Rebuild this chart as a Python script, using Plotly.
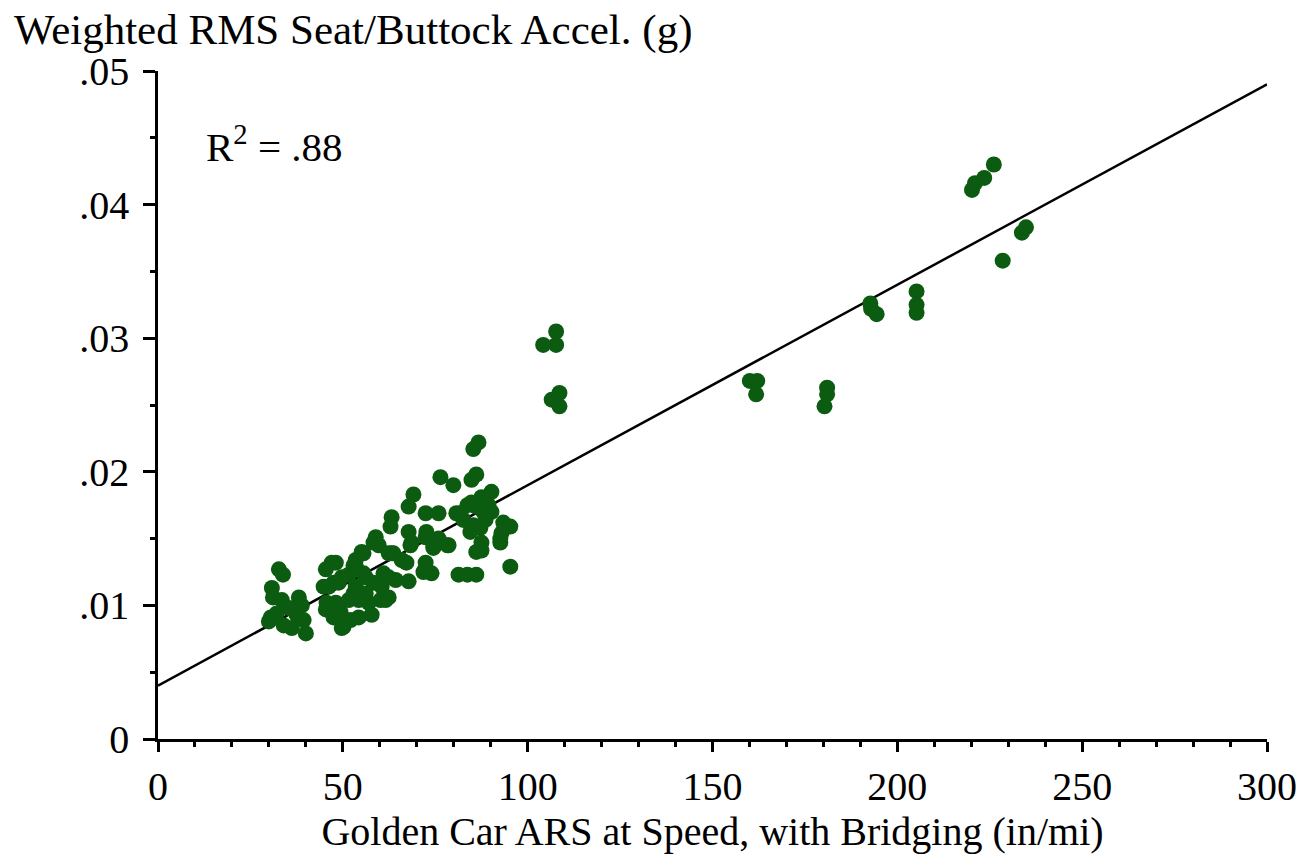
import plotly.graph_objects as go

# ARS (in/mi) and weighted RMS seat/buttock acceleration (g)
ars = [
    32.7, 33.8, 30.8, 31.1, 33.5, 38.1, 30.5, 32.1, 34.0, 37.5, 39.4, 40.0, 36.2, 30.0, 38.9, 35.4,
    45.4, 48.1, 44.8, 47.5, 49.7, 45.6, 45.4, 48.1, 49.4, 50.2, 52.1, 47.5, 54.3, 57.8,
    52.9, 55.6, 58.3, 55.6, 58.3, 61.0, 60.2, 57.0, 52.9, 62.4, 49.7, 61.6, 51.6, 54.3,
    48.9, 51.6, 56.2, 62.4, 60.5, 56.2, 53.5, 46.2, 53.5, 58.9, 59.7, 55.1, 53.5, 63.2, 65.9, 47.0,
    68.3, 74.5, 78.3, 87.5, 92.6, 95.3, 81.3, 83.7, 86.1, 72.4, 74.0, 71.8, 63.7, 67.2, 67.8, 64.3, 62.4,
    76.4, 79.9, 69.1, 67.8, 72.4, 75.9, 63.2, 62.9, 67.8, 68.6, 72.6, 74.5, 74.5, 78.6, 80.7,
    86.7, 85.3, 84.8, 86.1, 90.2, 87.5, 84.8, 86.1, 89.4, 90.2, 88.0, 81.8, 85.3, 87.2, 84.5,
    93.4, 95.3, 92.9, 92.6, 75.9, 87.5, 86.1, 83.7, 88.6, 82.6, 72.4,
    107.7, 104.2, 107.7, 108.6, 106.5, 108.6,
    160.1, 162.1, 161.8, 181.0, 181.0, 180.3,
    192.7, 192.9, 194.4, 205.2, 205.2, 205.2,
    220.2, 221.0, 223.5, 226.1, 234.8, 233.7, 228.5,
]
accel = [
    .0127, .0123, .0113, .0106, .0104, .0106, .0091, .0094, .0085, .0093, .0089, .0079, .0083, .0088, .0100, .0098,
    .0127, .0132, .0114, .0117, .0121, .0102, .0097, .0102, .0095, .0084, .0089, .0091, .0091, .0093,
    .0130, .0139, .0147, .0124, .0117, .0124, .0104, .0102, .0109, .0139, .0083, .0104, .0104, .0104,
    .0117, .0123, .0121, .0121, .0114, .0109, .0114, .0114, .0129, .0151, .0145, .0140, .0134, .0139, .0134, .0132,
    .0145, .0144, .0145, .0141, .0147, .0129, .0123, .0123, .0123, .0132, .0124, .0125, .0139, .0132, .0118, .0119, .0106,
    .0196, .0190, .0183, .0174, .0169, .0169, .0166, .0159, .0155, .0147, .0155, .0149, .0143, .0145, .0169,
    .0222, .0217, .0194, .0198, .0185, .0181, .0177, .0174, .0175, .0170, .0170, .0169, .0160, .0158, .0155,
    .0162, .0159, .0154, .0150, .0150, .0147, .0140, .0175, .0164, .0164, .0151,
    .0305, .0295, .0295, .0259, .0254, .0249,
    .0268, .0268, .0258, .0263, .0258, .0249,
    .0326, .0322, .0318, .0335, .0325, .0319,
    .0411, .0416, .0420, .0430, .0383, .0379, .0358,
]

fit_intercept = 0.0040
fit_slope = 0.000150
fit_x = [0, 300]
fit_y = [fit_intercept + fit_slope * v for v in fit_x]

x_ticks = [0, 50, 100, 150, 200, 250, 300]
x_tick_text = ["0", "50", "100", "150", "200", "250", "300"]
y_ticks = [0, 0.01, 0.02, 0.03, 0.04, 0.05]
y_tick_text = ["0", ".01", ".02", ".03", ".04", ".05"]

FONT = "Liberation Serif, Times New Roman, serif"
GREEN = "#0b5c10"

fig = go.Figure()
fig.add_trace(go.Scatter(x=fit_x, y=fit_y, mode="lines",
                         line=dict(color="black", width=2.5), showlegend=False, cliponaxis=False))
fig.add_trace(go.Scatter(x=ars, y=accel, mode="markers",
                         marker=dict(color=GREEN, size=16, line=dict(width=0)),
                         showlegend=False))

axis_common = dict(showline=True, linecolor="black", linewidth=2.5, ticks="outside",
                   tickcolor="black", tickwidth=2.5, showgrid=False, zeroline=False,
                   tickfont=dict(family=FONT, size=40, color="black"))

fig.update_xaxes(range=[0, 300], tickvals=x_ticks, ticktext=x_tick_text, ticklen=10,
                 minor=dict(dtick=10, tick0=0, ticklen=5, ticks="outside", tickcolor="black", tickwidth=2.5),
                 title=dict(text="Golden Car ARS at Speed, with Bridging (in/mi)",
                            font=dict(family=FONT, size=40, color="black"), standoff=10),
                 **axis_common)
fig.update_yaxes(range=[0, 0.05], tickvals=y_ticks, ticktext=y_tick_text, ticklen=12,
                 minor=dict(dtick=0.005, tick0=0, ticklen=5, ticks="outside", tickcolor="black", tickwidth=2.5),
                 ticklabelstandoff=6,
                 **axis_common)

fig.add_annotation(x=12.5, y=0.0445, xref="x", yref="y", xanchor="left", yanchor="middle",
                   text="R<sup>2</sup> = .88", showarrow=False,
                   font=dict(family=FONT, size=41, color="black"))
fig.add_annotation(x=-146/1111, y=1 + 41/668, xref="paper", yref="paper",
                   text="Weighted RMS Seat/Buttock Accel. (g)",
                   showarrow=False, xanchor="left", yanchor="middle",
                   font=dict(family=FONT, size=43, color="black"))

fig.update_layout(width=1309, height=864, plot_bgcolor="white", paper_bgcolor="white",
                  margin=dict(l=158, r=40, t=71, b=125))

fig.write_html("out.html")
